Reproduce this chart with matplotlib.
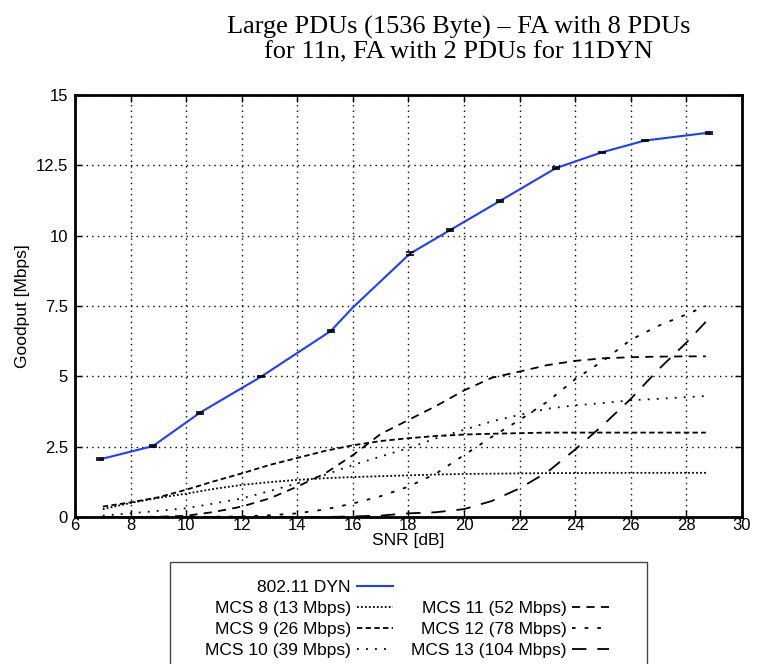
import matplotlib
matplotlib.use("Agg")
import matplotlib.pyplot as plt
from matplotlib.lines import Line2D
from matplotlib.patches import Rectangle
from matplotlib.ticker import FormatStrFormatter
import numpy as np

# 802.11 DYN (blue, with small error bars)
dyn_snr = [6.9, 8.8, 10.5, 12.7, 15.2, 16.0, 18.05, 19.5, 21.3, 23.3, 24.95, 26.5, 28.8]
dyn_goodput = [2.05, 2.52, 3.71, 4.99, 6.61, 7.45, 9.36, 10.2, 11.24, 12.40, 12.96, 13.38, 13.66]
dyn_err = [0.03, 0.03, 0.04, 0.03, 0.04, 0.0, 0.05, 0.04, 0.04, 0.04, 0.03, 0.03, 0.03]

# 11n MCS curves (black)
mcs_snr = [7, 8, 9, 10, 11, 12, 13, 14, 15, 16, 17, 18, 19, 20, 21, 22, 23, 24, 25, 26, 27, 28, 28.7]
mcs8 = [0.28, 0.5, 0.68, 0.83, 1.0, 1.14, 1.24, 1.32, 1.38, 1.42, 1.45, 1.48, 1.51, 1.53,
        1.54, 1.55, 1.56, 1.56, 1.57, 1.57, 1.57, 1.57, 1.57]
mcs9 = [0.37, 0.52, 0.7, 0.97, 1.27, 1.55, 1.85, 2.1, 2.35, 2.55, 2.7, 2.8, 2.88, 2.93,
        2.96, 2.98, 3.0, 3.0, 3.0, 3.0, 3.0, 3.0, 3.0]
mcs10 = [0.05, 0.13, 0.22, 0.31, 0.48, 0.66, 0.92, 1.2, 1.5, 1.85, 2.15, 2.45, 2.8, 3.1,
         3.4, 3.63, 3.85, 3.97, 4.05, 4.15, 4.2, 4.26, 4.3]
mcs11 = [0.0, 0.0, 0.01, 0.04, 0.18, 0.37, 0.66, 1.08, 1.55, 2.2, 2.95, 3.45, 3.95, 4.5,
         4.95, 5.17, 5.4, 5.55, 5.64, 5.68, 5.7, 5.71, 5.71]
mcs12 = [0.0, 0.0, 0.0, 0.0, 0.01, 0.02, 0.06, 0.13, 0.27, 0.48, 0.74, 1.08, 1.55, 2.2,
         2.85, 3.45, 4.1, 4.9, 5.55, 6.3, 6.8, 7.2, 7.5]
mcs13 = [0.0, 0.0, 0.0, 0.0, 0.0, 0.0, 0.0, 0.0, 0.0, 0.02, 0.05, 0.13, 0.17, 0.28,
         0.57, 1.02, 1.6, 2.4, 3.27, 4.2, 5.25, 6.2, 6.94]

mcs_labels = ["MCS 8 (13 Mbps)", "MCS 9 (26 Mbps)", "MCS 10 (39 Mbps)",
              "MCS 11 (52 Mbps)", "MCS 12 (78 Mbps)", "MCS 13 (104 Mbps)"]
mcs_styles = [(0, (1, 1.2)), (0, (3, 1.8)), (0, (1, 4)),
              (0, (4.5, 3.5)), (0, (2, 5)), (0, (8, 6))]

x_ticks = list(range(6, 31, 2))
y_ticks = [0, 2.5, 5, 7.5, 10, 12.5, 15]

plt.rcParams["font.family"] = ["Liberation Sans", "DejaVu Sans"]

fig = plt.figure(figsize=(7.57, 6.64), dpi=100)
ax = fig.add_axes([75 / 757, 1 - 517 / 664, 667 / 757, 422 / 664])

ax.plot(dyn_snr, dyn_goodput, color="#1f3dff", lw=1.5, zorder=4)
m = np.array(dyn_err) > 0
ax.errorbar(np.array(dyn_snr)[m], np.array(dyn_goodput)[m], yerr=np.array(dyn_err)[m],
            fmt="none", ecolor="black", elinewidth=1, capsize=3, capthick=1.2, zorder=5)

mcs_series = [mcs8, mcs9, mcs10, mcs11, mcs12, mcs13]
mcs_lines = []
for vals, ls in zip(mcs_series, mcs_styles):
    ln, = ax.plot(mcs_snr, vals, color="black", lw=1.3, linestyle=ls, zorder=3)
    mcs_lines.append(ln)

ax.set_xlim(6, 30)
ax.set_ylim(0, 15)
ax.set_xticks(x_ticks)
ax.set_yticks(y_ticks)
ax.yaxis.set_major_formatter(FormatStrFormatter("%g"))
ax.grid(True, color="black", linestyle=(0, (1, 3)), lw=1)
ax.tick_params(direction="in", top=True, right=True, length=5, width=1,
               labelsize=12)
ax.tick_params(axis="x", pad=1)
ax.tick_params(axis="y", pad=5)
for sp in ax.spines.values():
    sp.set_linewidth(2)

ax.set_xlabel("SNR [dB]", fontsize=12.5, labelpad=0)
ax.set_ylabel("Goodput [Mbps]", fontsize=12.5, labelpad=4)

fig.text(459 / 757, 1 - 40 / 664,
         "Large PDUs (1536 Byte) \u2013 FA with 8 PDUs\nfor 11n, FA with 2 PDUs for 11DYN",
         ha="center", va="center", fontsize=19, family="Liberation Serif",
         linespacing=1.15)

# legend box (gnuplot-style, outside the axes)
fig.patches.append(Rectangle((170 / 757, -0.01), 477 / 757, 0.01 + 1 - 562 / 664,
                             transform=fig.transFigure, fill=False,
                             edgecolor="#444444", lw=1))
blank = Line2D([], [], color="none")
dyn_handle = Line2D([], [], color="#1f3dff", lw=1.5)
handles = [dyn_handle] + mcs_lines[:3] + [blank] + mcs_lines[3:]
labels = ["802.11 DYN"] + mcs_labels[:3] + [""] + mcs_labels[3:]
fig.legend(handles, labels, ncol=2, markerfirst=False, frameon=False,
           loc="upper left", bbox_to_anchor=(205 / 757, 1 - 580 / 664),
           fontsize=12.5, borderpad=0, borderaxespad=0, handlelength=2.1,
           handletextpad=0.35, columnspacing=1.0, labelspacing=0.34)

fig.savefig("out.png", dpi=100)
